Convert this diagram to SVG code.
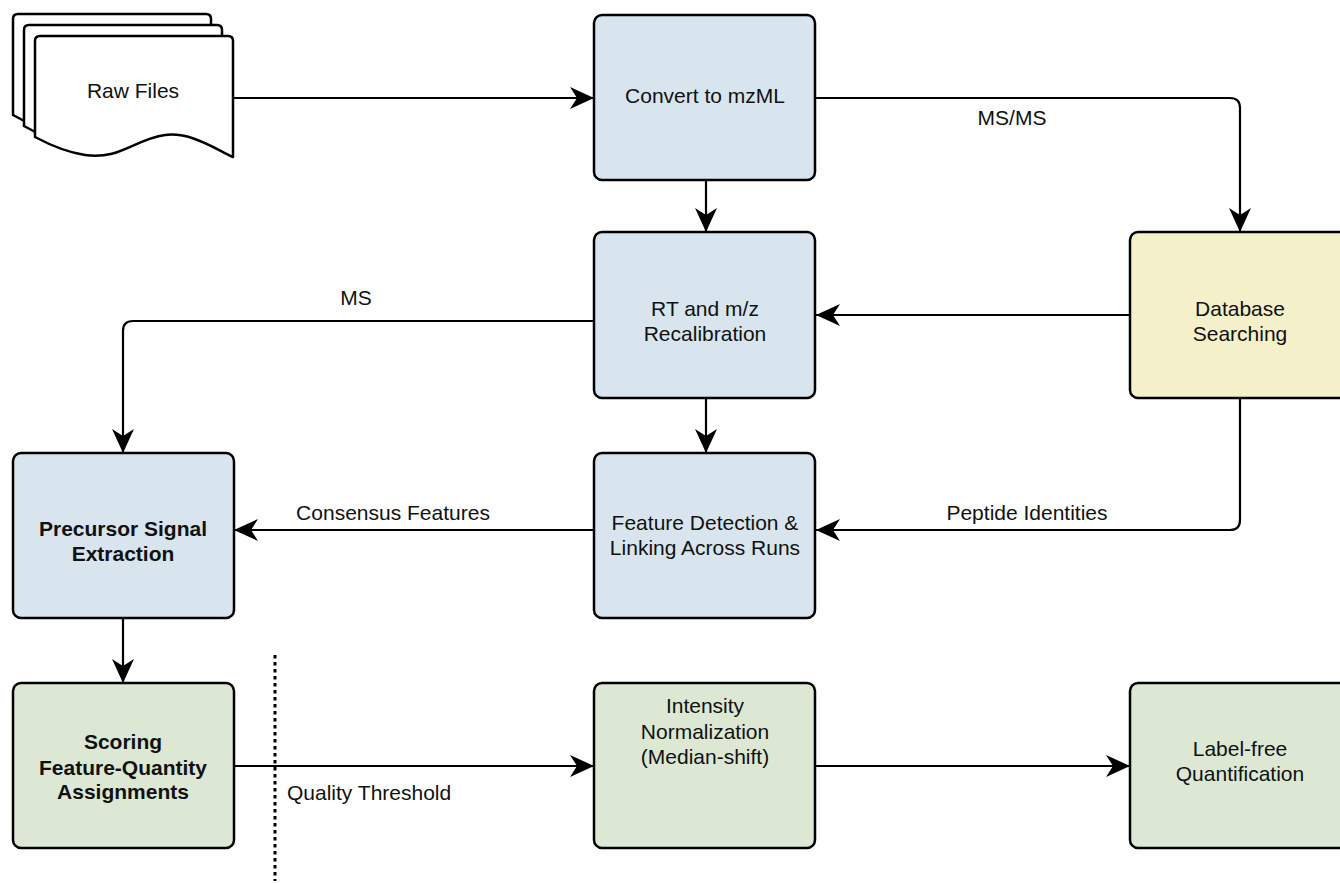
<svg xmlns="http://www.w3.org/2000/svg" width="1340" height="883" viewBox="0 0 1340 883">
<defs>
<style>
.box{stroke:#000;stroke-width:2.5}
.blue{fill:#d8e5ee}
.yellow{fill:#f4f0ca}
.green{fill:#dce8d4}
.page{fill:#fff;stroke:#000;stroke-width:2.5;stroke-linejoin:round}
text{font-family:"Liberation Sans",Arial,sans-serif;font-size:21px;fill:#111;text-anchor:middle}
.b{font-weight:bold}
.conn{fill:none;stroke:#000;stroke-width:2.2;stroke-linejoin:round}
.dot{fill:none;stroke:#000;stroke-width:3;stroke-dasharray:3.5 3.5}
</style>
<marker id="arr" markerUnits="userSpaceOnUse" markerWidth="24" markerHeight="22" refX="24" refY="11" orient="auto" viewBox="0 0 24 22">
<path d="M0,0 L24,11 L0,22 L7,11 Z" fill="#000"/>
</marker>
</defs>
<rect width="1340" height="883" fill="#fff"/>

<g id="connectors">
<path class="conn" d="M233,98 H594" marker-end="url(#arr)"/>
<path class="conn" d="M816,98 H1230 Q1240,98 1240,108 V232" marker-end="url(#arr)"/>
<path class="conn" d="M706,180 V232" marker-end="url(#arr)"/>
<path class="conn" d="M1130,315 H816" marker-end="url(#arr)"/>
<path class="conn" d="M594,321 H133 Q123,321 123,331 V453" marker-end="url(#arr)"/>
<path class="conn" d="M706,398 V453" marker-end="url(#arr)"/>
<path class="conn" d="M1240,398 V520 Q1240,530 1230,530 H816" marker-end="url(#arr)"/>
<path class="conn" d="M594,530 H234" marker-end="url(#arr)"/>
<path class="conn" d="M123,618 V683" marker-end="url(#arr)"/>
<path class="conn" d="M234,766 H594" marker-end="url(#arr)"/>
<path class="conn" d="M816,766 H1130" marker-end="url(#arr)"/>
<text x="1012" y="125">MS/MS</text>
<text x="356" y="305">MS</text>
<text x="393" y="520">Consensus Features</text>
<text x="1027" y="520">Peptide Identities</text>
<text x="287" y="800" style="text-anchor:start">Quality Threshold</text>
</g>

<path class="dot" d="M275,655 V881"/>

<g id="raw-files">
<path class="page" d="M13,115 V19 Q13,14 18,14 H206 Q211,14 211,19 V135 C190,125 165,110 140,113 C110,117 95,140 60,133 C40,129 25,122 13,115 Z"/>
<path class="page" d="M24,126 V30 Q24,25 29,25 H217 Q222,25 222,30 V146 C201,136 176,121 151,124 C121,128 106,151 71,144 C51,140 36,133 24,126 Z"/>
<path class="page" d="M35,137 V41 Q35,36 40,36 H228 Q233,36 233,41 V157 C212,147 190,132 165,135 C135,139 120,160 85,155 C65,152 50,145 35,137 Z"/>
<text x="133" y="98">Raw Files</text>
</g>

<g id="convert">
<rect class="box blue" x="594" y="15" width="221" height="165" rx="8"/>
<text x="705" y="103">Convert to mzML</text>
</g>

<g id="recalibration">
<rect class="box blue" x="594" y="232" width="221" height="166" rx="8"/>
<text x="705" y="316">RT and m/z</text>
<text x="705" y="341">Recalibration</text>
</g>

<g id="database">
<rect class="box yellow" x="1130" y="232" width="222" height="166" rx="8"/>
<text x="1240" y="316">Database</text>
<text x="1240" y="341">Searching</text>
</g>

<g id="precursor">
<rect class="box blue" x="13" y="453" width="221" height="165" rx="8"/>
<text class="b" x="123" y="536">Precursor Signal</text>
<text class="b" x="123" y="561">Extraction</text>
</g>

<g id="feature">
<rect class="box blue" x="594" y="453" width="221" height="165" rx="8"/>
<text x="705" y="530">Feature Detection &amp;</text>
<text x="705" y="555">Linking Across Runs</text>
</g>

<g id="scoring">
<rect class="box green" x="13" y="683" width="221" height="165" rx="8"/>
<text class="b" x="123" y="749">Scoring</text>
<text class="b" x="123" y="775">Feature-Quantity</text>
<text class="b" x="123" y="799">Assignments</text>
</g>

<g id="intensity">
<rect class="box green" x="594" y="683" width="221" height="165" rx="8"/>
<text x="705" y="713">Intensity</text>
<text x="705" y="739">Normalization</text>
<text x="705" y="764">(Median-shift)</text>
</g>

<g id="labelfree">
<rect class="box green" x="1130" y="683" width="222" height="165" rx="8"/>
<text x="1240" y="756">Label-free</text>
<text x="1240" y="781">Quantification</text>
</g>
</svg>
